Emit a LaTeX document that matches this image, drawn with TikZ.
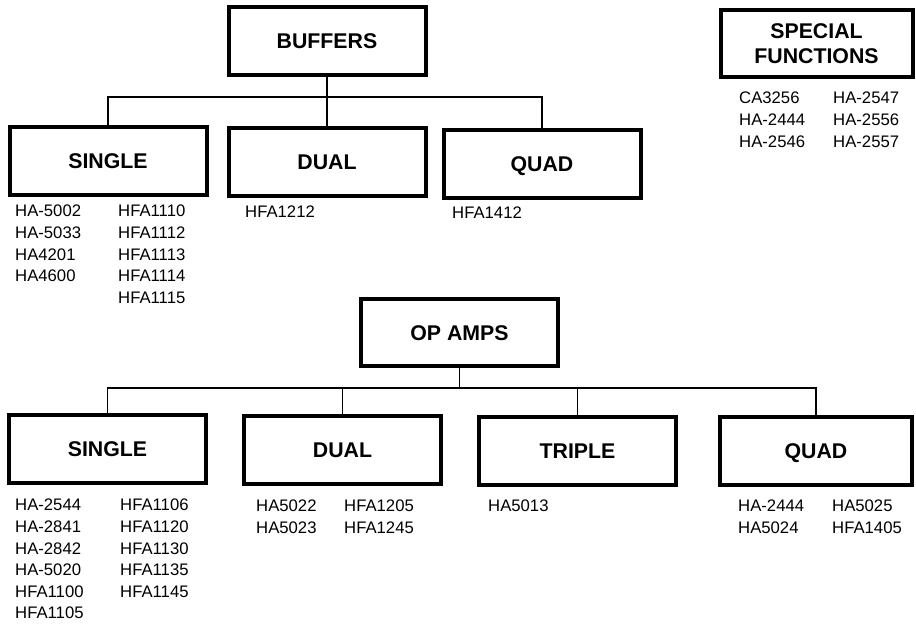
\documentclass[tikz,border=0pt]{standalone}
\usepackage{fontspec}
\setmainfont{Liberation Sans}
\usetikzlibrary{positioning}

\tikzset{
  boxbase/.style={draw, line width=4pt, minimum width=197pt, minimum height=68pt,
    inner sep=0pt, align=center, font=\bfseries\fontsize{21.3}{25}\selectfont},
  catbox/.style={boxbase, text height=15.3pt, text depth=0pt},
  partlist/.style={anchor=north west, inner sep=0pt, align=left,
    font=\fontsize{16.7}{21.6}\selectfont},
  bus/.style={line width=1.6pt}
}

\begin{document}
\begin{tikzpicture}[x=1pt,y=-1pt]
    \useasboundingbox (0,0) rectangle (916,624);

    % Buffers
    \node[catbox] (buffers) at (327,41) {BUFFERS};
    \node[catbox] (bsingle) at (108,161) {SINGLE};
    \node[catbox] (bdual) at (327,162) {DUAL};
    \node[catbox] (bquad) at (542,163.5) {QUAD};

    \coordinate (bbus) at (327,97);
    \draw[bus] (buffers) -- (bbus);
    \draw[bus] (bsingle.north) |- (bbus -| bquad.north) -- (bquad.north);
    \draw[bus] (bdual) -- (bbus);

    \node[partlist] (bsingleA) at (15,205) {HA-5002\\HA-5033\\HA4201\\HA4600};
    \node[partlist] (bsingleB) at (118,205) {HFA1110\\HFA1112\\HFA1113\\HFA1114\\HFA1115};
    \node[partlist] (bdualA) at (245,206) {HFA1212};
    \node[partlist] (bquadA) at (452,207) {HFA1412};

    % Special functions
    \node[boxbase, minimum width=192pt, minimum height=67pt] (special) at (816.5,43.5) {SPECIAL\\FUNCTIONS};
    \node[partlist] (specialA) at (739,92) {CA3256\\HA-2444\\HA-2546};
    \node[partlist] (specialB) at (833,92) {HA-2547\\HA-2556\\HA-2557};

    % Op amps
    \node[catbox, minimum height=67pt] (opamps) at (459.5,332.5) {OP AMPS};
    \node[catbox] (osingle) at (107.5,449) {SINGLE};
    \node[catbox] (odual) at (342.5,450) {DUAL};
    \node[catbox] (otriple) at (577.5,450.5) {TRIPLE};
    \node[catbox, minimum width=192pt] (oquad) at (816,451) {QUAD};

    \coordinate (obus) at (459.5,388);
    \draw[bus] (opamps) -- (obus);
    \draw[bus] (osingle.north) |- (obus -| oquad.north) -- (oquad.north);
    \draw[bus] (odual.north) -- (odual.north |- obus);
    \draw[bus] (otriple.north) -- (otriple.north |- obus);

    \node[partlist] (osingleA) at (15,499) {HA-2544\\HA-2841\\HA-2842\\HA-5020\\HFA1100\\HFA1105};
    \node[partlist] (osingleB) at (120,499) {HFA1106\\HFA1120\\HFA1130\\HFA1135\\HFA1145};
    \node[partlist] (odualA) at (256,500) {HA5022\\HA5023};
    \node[partlist] (odualB) at (344,500) {HFA1205\\HFA1245};
    \node[partlist] (otripleA) at (488,500) {HA5013};
    \node[partlist] (oquadA) at (738,500) {HA-2444\\HA5024};
    \node[partlist] (oquadB) at (832,500) {HA5025\\HFA1405};

\end{tikzpicture}
\end{document}
